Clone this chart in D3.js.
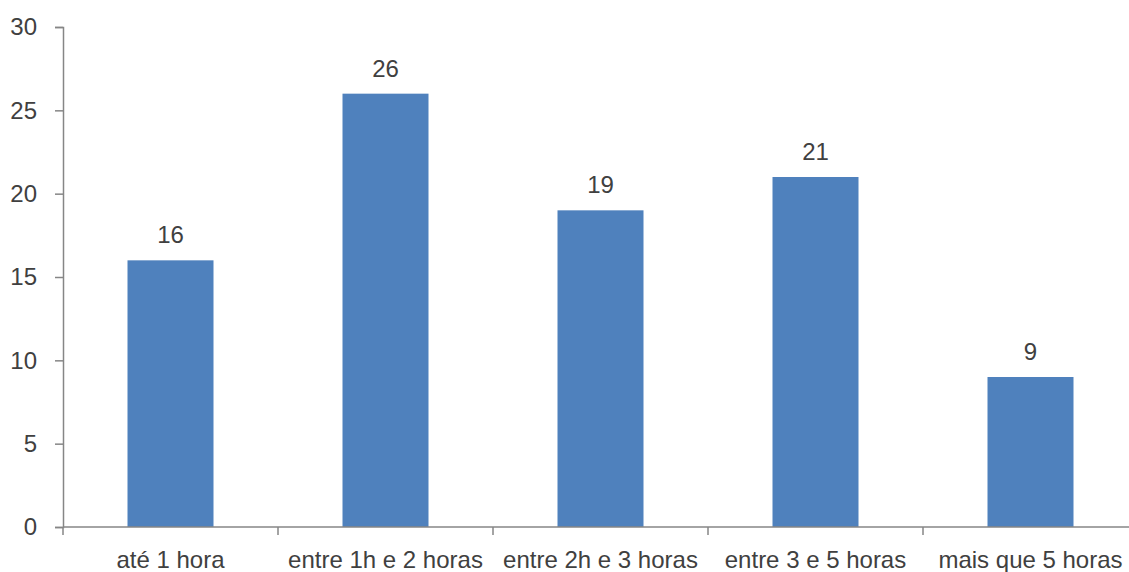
<!DOCTYPE html>
<html>
<head>
<meta charset="utf-8">
<script src="https://cdn.jsdelivr.net/npm/d3@7"></script>
<style>
  body { margin: 0; background: #fff; }
  svg { display: block; }
</style>
</head>
<body>
<svg id="chart"></svg>
<script>
let categories = ['até 1 hora', 'entre 1h e 2 horas', 'entre 2h e 3 horas', 'entre 3 e 5 horas', 'mais que 5 horas'];
let values = [16, 26, 19, 21, 9];
let yTicks = [0, 5, 10, 15, 20, 25, 30];

let width = 1129, height = 572;
let margin = {top: 27, left: 63};
let plotH = 500;
let step = 215;

let svg = d3.select('#chart')
    .attr('width', width)
    .attr('height', height)
    .style('font-family', '"Liberation Sans", Arial, sans-serif');

let xScale = d3.scaleBand()
    .domain(categories)
    .range([margin.left, margin.left + step * categories.length])
    .paddingInner(0.6)
    .paddingOuter(0.3);

let yScale = d3.scaleLinear()
    .domain([0, 30])
    .range([margin.top + plotH, margin.top]);

let axisColor = '#868686';
let textColor = '#404040';

// y axis
let yAxis = svg.append('g')
    .attr('transform', 'translate(' + margin.left + ',0)')
    .call(d3.axisLeft(yScale).tickValues(yTicks).tickSize(8).tickPadding(18));
yAxis.select('.domain').attr('stroke', axisColor).attr('stroke-width', 1.5);
yAxis.selectAll('.tick line').attr('stroke', axisColor).attr('stroke-width', 1.5);
yAxis.selectAll('.tick text')
    .attr('fill', textColor)
    .style('font-size', '24px');

// bars
svg.selectAll('rect.bar')
    .data(values)
    .enter()
    .append('rect')
    .attr('class', 'bar')
    .attr('x', function (d, i) { return xScale(categories[i]); })
    .attr('y', function (d) { return yScale(d); })
    .attr('width', xScale.bandwidth())
    .attr('height', function (d) { return yScale(0) - yScale(d); })
    .style('fill', '#4F81BD');

// x axis
let boundaries = d3.range(categories.length + 1).map(function (i) { return margin.left + i * step; });
let xg = svg.append('g');
xg.append('line')
    .attr('x1', margin.left).attr('x2', width)
    .attr('y1', yScale(0)).attr('y2', yScale(0))
    .attr('stroke', axisColor).attr('stroke-width', 1.5);
xg.selectAll('line.tick')
    .data(boundaries)
    .enter()
    .append('line')
    .attr('class', 'tick')
    .attr('x1', function (d) { return d; }).attr('x2', function (d) { return d; })
    .attr('y1', yScale(0)).attr('y2', yScale(0) + 8)
    .attr('stroke', axisColor).attr('stroke-width', 1.5);
xg.selectAll('text')
    .data(categories)
    .enter()
    .append('text')
    .attr('x', function (d) { return xScale(d) + xScale.bandwidth() / 2; })
    .attr('y', yScale(0) + 41)
    .attr('text-anchor', 'middle')
    .attr('fill', textColor)
    .style('font-size', '24px')
    .text(function (d) { return d; });

// value labels
svg.selectAll('text.value')
    .data(values)
    .enter()
    .append('text')
    .attr('class', 'value')
    .attr('x', function (d, i) { return xScale(categories[i]) + xScale.bandwidth() / 2; })
    .attr('y', function (d) { return yScale(d) - 17; })
    .attr('text-anchor', 'middle')
    .attr('fill', textColor)
    .style('font-size', '24px')
    .text(function (d) { return d; });
</script>
</body>
</html>
